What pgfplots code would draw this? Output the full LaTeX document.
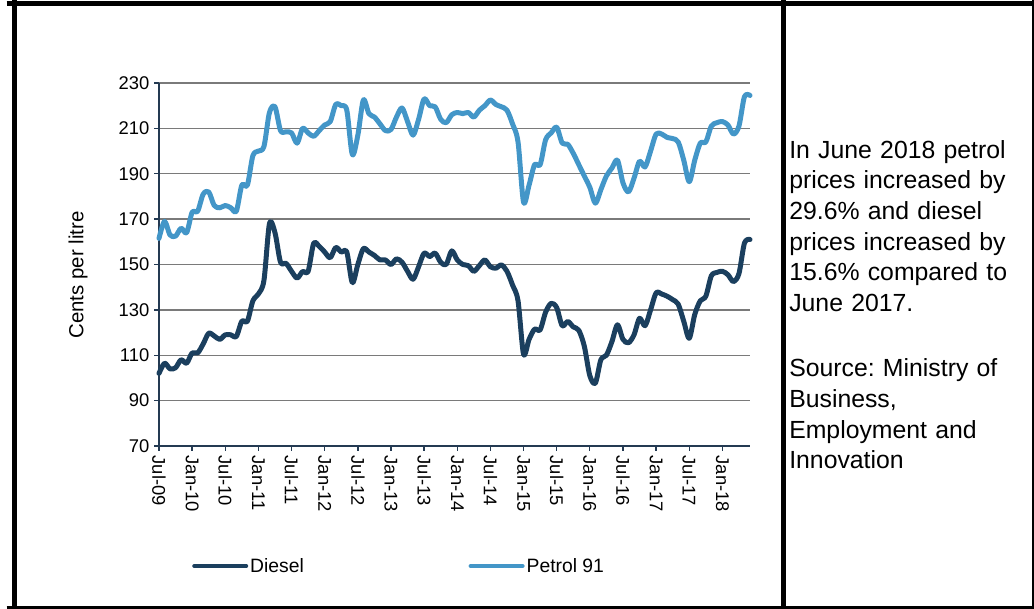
\documentclass[border=0pt]{standalone}
\usepackage{fontspec}
\setmainfont{Liberation Sans}
\usepackage{pgfplots}
\pgfplotsset{compat=1.18}
\usepackage{pgfplotstable}
\definecolor{diesel}{HTML}{1B3F5E}
\definecolor{petrol}{HTML}{4396C8}
\definecolor{axisnavy}{HTML}{243A52}
\frenchspacing

\pgfplotstableread{
m diesel petrol
0 102 161.5
1 106.5 169
2 104 163
3 104.5 162.5
4 108 166
5 106.5 164
6 111 173
7 111 173.5
8 115 181
9 119.7 182
10 118.5 176
11 117 175
12 119 176
13 119 175
14 118.3 173.5
15 125 185
16 125 185
17 134 198
18 137 200
19 143 202
20 168 217
21 164 219.5
22 151 209
23 150.5 208.5
24 147 208
25 144 203.5
26 146.9 210
27 147 208
28 159.3 206.5
29 158 209
30 155.5 211.5
31 153 213
32 157.5 220.5
33 155.5 220
34 155.5 218
35 142 198.5
36 150 207
37 157 222.5
38 155.5 216.5
39 154 215
40 152 212
41 152 209
42 150 209.5
43 152.5 215
44 151 219
45 147 213
46 143.5 207
47 149 214
48 155 223
49 153.5 220
50 155 219.5
51 151 214
52 150 212.5
53 156 216
54 152 217
55 150 216.5
56 149.5 217
57 147 215
58 149.5 218
59 152 220
60 149 222.5
61 148.4 220.5
62 149.8 219.5
63 147 218
64 141 212
65 134 204
66 110.5 177.5
67 117 185
68 121.5 194
69 121.2 194
70 129 205
71 132.9 208
72 131 210.5
73 123 203.5
74 124.9 203
75 122.5 199
76 121 194
77 114 189
78 101 184
79 97.7 177
80 108 183
81 110 189
82 116 192.5
83 123.4 196
84 117 186
85 115.5 182
86 119 188
87 126.3 195.5
88 123 193
89 130 200
90 137.5 207.5
91 137 207.5
92 136 206
93 134.5 205.5
94 132.5 204
95 125 196
96 117.5 186.5
97 128 196
98 134 203.5
99 136 204
100 145 211
101 146.5 212.5
102 147 213
103 145.5 211.5
104 142.5 207.5
105 146 211
106 159.5 224
107 161 224.5
}\data

\begin{document}
\begin{tikzpicture}
\useasboundingbox (0,0) rectangle (775.5pt,456.75pt);
% frame
\draw[line width=3.6pt] (10.73pt,-5pt) -- (10.73pt,470pt);
\draw[line width=3.6pt] (5pt,454.35pt) -- (790pt,454.35pt);
\draw[line width=3.6pt] (775.6pt,-5pt) -- (775.6pt,470pt);
\draw[line width=3.6pt] (5pt,0.4pt) -- (790pt,0.4pt);
\draw[line width=3.6pt] (587.5pt,-5pt) -- (587.5pt,470pt);
\begin{axis}[
  scale only axis, width=443.25pt, height=272.25pt,
  at={(119.25pt,122.25pt)}, anchor=south west,
  xmin=0, xmax=107, ymin=70, ymax=230,
  ytick={70,90,...,230},
  xtick={0,6,...,102},
  xticklabels={Jul-09,Jan-10,Jul-10,Jan-11,Jul-11,Jan-12,Jul-12,Jan-13,Jul-13,Jan-14,Jul-14,Jan-15,Jul-15,Jan-16,Jul-16,Jan-17,Jul-17,Jan-18},
  axis lines*=left,
  axis line style={axisnavy, line width=1.5pt},
  tick align=outside, major tick length=3.75pt,
  tick style={axisnavy, line width=1pt},
  ymajorgrids, grid style={black!52, line width=1.1pt},
  /pgf/number format/assume math mode=true,
  tick label style={font=\fontsize{13.8pt}{16pt}\selectfont},
  xticklabel style={rotate=-90, anchor=west},
  ylabel={Cents per litre},
  ylabel style={at={(axis description cs:-0.137,0.471)}, anchor=center, font=\fontsize{15.3pt}{18pt}\selectfont},
  clip=false,
  legend columns=2,
  legend style={at={(axis description cs:0.0558,-0.3306)}, anchor=west, draw=none, inner sep=0pt,
    font=\fontsize{14.5pt}{17pt}\selectfont, nodes={inner xsep=1.5pt},
    /tikz/every even column/.append style={column sep=122pt}},
  legend image code/.code={\draw[#1, line width=3pt, line cap=round] (0pt,0pt) -- (39pt,0pt);},
]
\addplot[diesel, line width=3.75pt, smooth, line cap=round, line join=round] table[x=m,y=diesel]{\data};
\addplot[petrol, line width=3.75pt, smooth, line cap=round, line join=round] table[x=m,y=petrol]{\data};
\legend{Diesel, Petrol 91}
\end{axis}
\node[anchor=north west, inner sep=0pt, text width=186pt, align=left,
  font=\fontsize{18.6pt}{23pt}\selectfont] at (591.75pt,351.75pt)
  {In June 2018 petrol\\prices increased by\\29.6\% and diesel\\prices increased by\\15.6\% compared to\\June 2017.\\[26pt]Source: Ministry of\\Business,\\Employment and\\Innovation};
\end{tikzpicture}
\end{document}
